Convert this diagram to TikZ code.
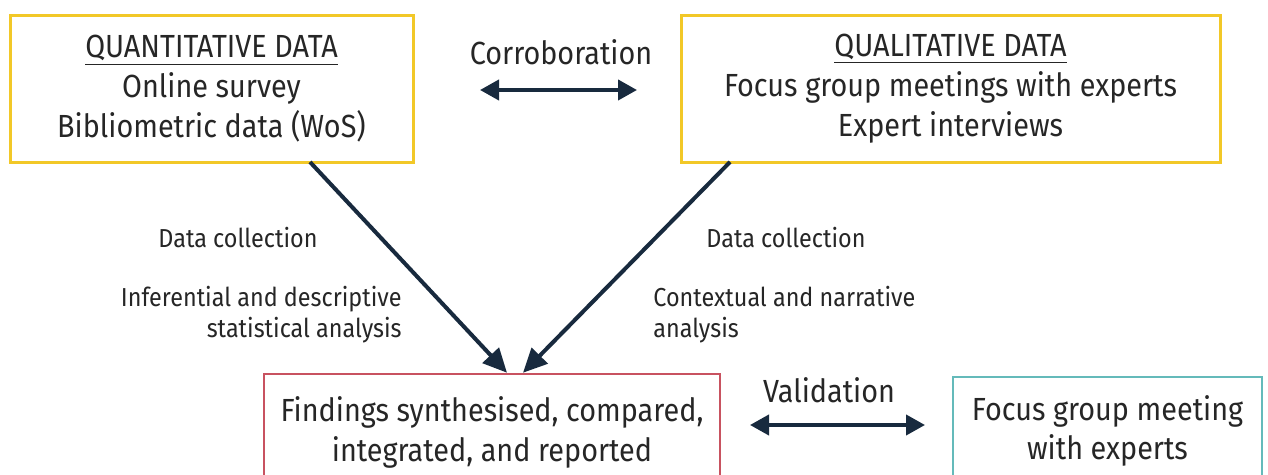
\documentclass[tikz,border=0pt]{standalone}
\usepackage{fontspec}
\setmainfont{Fira Sans}[FakeStretch=0.9]
\usepackage{tikz}
\usetikzlibrary{arrows.meta}

\definecolor{boxyellow}{RGB}{242,200,40}
\definecolor{boxred}{RGB}{200,82,96}
\definecolor{boxteal}{RGB}{100,186,186}
\definecolor{arrownavy}{RGB}{24,42,62}

\begin{document}
\begin{tikzpicture}[x=0.5pt,y=-0.5pt]
\tikzstyle{every node}=[inner sep=0pt,text=black!85]
\tikzstyle{databox}=[draw=boxyellow,line width=1.5pt,align=center,font=\fontsize{16}{20}\selectfont]
\tikzstyle{label}=[align=center,font=\fontsize{16}{18}\selectfont]
\tikzstyle{small}=[font=\fontsize{13}{15.5}\selectfont]
\tikzstyle{arr}=[draw=arrownavy,line width=2pt,-{Triangle[length=12pt,width=11pt]}]
\tikzstyle{dblarr}=[draw=arrownavy,line width=2pt,{Triangle[length=9.5pt,width=10pt]}-{Triangle[length=9.5pt,width=10pt]}]
\clip (0,0) rectangle (1268,475);
\fill[white] (0,0) rectangle (1268,475);
% data boxes
\node[databox,minimum width=201.5pt,minimum height=73.5pt] (quant) at (211.5,89) {\underline{QUANTITATIVE DATA}\\Online survey\\Bibliometric data (WoS)};
\node[databox,minimum width=269.5pt,minimum height=73.5pt] (qual) at (950.5,89) {\underline{QUALITATIVE DATA}\\Focus group meetings with experts\\Expert interviews};
\node[label] (corro) at (561,52) {Corroboration};
\coordinate (corroL) at (480,90);
\coordinate (corroR) at (637,90);
\draw[dblarr] (corroL) -- (corroR);
% findings and validation
\node[label,draw=boxred,line width=1.25pt,minimum width=228pt,minimum height=58pt,font=\fontsize{16}{20}\selectfont] (find) at (492,432) {Findings synthesised, compared,\\integrated, and reported};
\node[label,draw=boxteal,line width=1.25pt,minimum width=154.5pt,minimum height=54pt,font=\fontsize{16}{19.5}\selectfont] (focus) at (1107.5,431) {Focus group meeting\\with experts};
\node[label] (valid) at (829,390) {Validation};
\coordinate (validL) at (750,425);
\coordinate (validR) at (925,425);
\draw[dblarr] (validL) -- (validR);
% diagonal arrows
\coordinate (quantout) at (310,162);
\coordinate (qualout) at (730,162);
\draw[arr] (quantout) -- ([xshift=7.5pt]find.north);
\draw[arr] (qualout) -- ([xshift=15.5pt]find.north);
\node[small] (dcleft) at (238,238) {Data collection};
\node[small,align=right,anchor=east] (statan) at (402,315) {Inferential and descriptive\\statistical analysis};
\node[small] (dcright) at (786,238) {Data collection};
\node[small,align=left,anchor=west] (narran) at (653,315) {Contextual and narrative\\analysis};
\end{tikzpicture}
\end{document}
